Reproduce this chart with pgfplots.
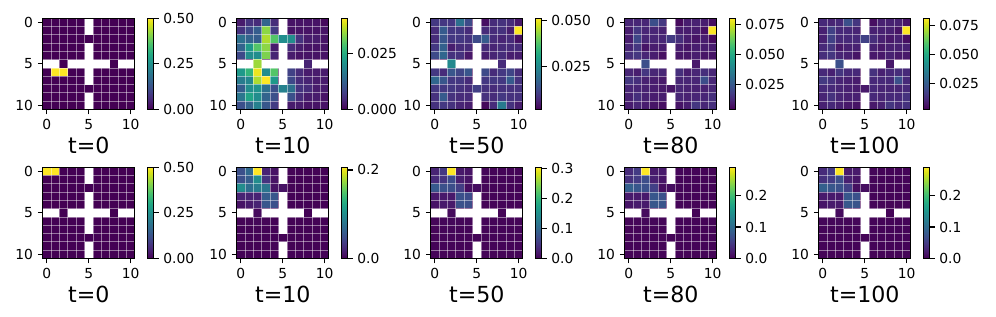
\documentclass[border=0pt]{standalone}
\usepackage{fontspec}
\setmainfont{DejaVu Sans}
\usepackage{pgfplots}
\pgfplotsset{compat=1.18}

\pgfplotsset{
  hm/.style={
    width=66.4bp, height=65.6bp, scale only axis,
    y dir=reverse, enlargelimits=false,
    xmin=-0.5, xmax=10.5, ymin=-0.5, ymax=10.5,
    xtick={0,5,10}, ytick={0,5,10},
    axis on top, tick align=outside, tick pos=left,
    major tick length=3.5bp,
    minor xtick={-0.5,0.5,...,10.5}, minor ytick={-0.5,0.5,...,10.5},
    minor tick length=0pt,
    xminorgrids, yminorgrids,
    minor grid style={white, opacity=0.45, line width=0.6bp},
    axis line style={line width=0.8bp},
    every tick/.style={black, line width=0.8bp},
    colormap name=viridis,
    /pgf/number format/assume math mode=true,
    tick label style={font=\fontsize{10}{12}\selectfont},
    xlabel style={font=\fontsize{16}{19}\selectfont, inner sep=0pt, yshift=-2bp},
    colorbar,
    colorbar style={
      width=4.3bp, at={(parent axis.north east)}, anchor=north west, xshift=0.7bp,
      ytick pos=right, yticklabel pos=right, tick align=outside,
      scaled y ticks=false,
      major tick length=3.5bp,
      axis line style={line width=0.8bp},
      every tick/.style={black, line width=0.8bp},
      tick label style={font=\fontsize{10}{12}\selectfont},
      /pgf/number format/assume math mode=true,
    },
  },
  hmdata/.style={matrix plot*, mesh/cols=11, point meta=explicit},
  table/hmtab/.style={row sep=\\, header=false, x expr={mod(\coordindex,11)}, y expr={floor(\coordindex/11)}, meta index=0},
}

\newcommand{\walls}{%
  \addplot[fill=white, draw=none, forget plot] coordinates {(4.5,-0.5) (5.5,-0.5) (5.5,1.5) (4.5,1.5)};
  \addplot[fill=white, draw=none, forget plot] coordinates {(4.5,2.5) (5.5,2.5) (5.5,7.5) (4.5,7.5)};
  \addplot[fill=white, draw=none, forget plot] coordinates {(4.5,8.5) (5.5,8.5) (5.5,10.5) (4.5,10.5)};
  \addplot[fill=white, draw=none, forget plot] coordinates {(-0.5,4.5) (1.5,4.5) (1.5,5.5) (-0.5,5.5)};
  \addplot[fill=white, draw=none, forget plot] coordinates {(2.5,4.5) (7.5,4.5) (7.5,5.5) (2.5,5.5)};
  \addplot[fill=white, draw=none, forget plot] coordinates {(8.5,4.5) (10.5,4.5) (10.5,5.5) (8.5,5.5)};
}

\begin{document}
\begin{tikzpicture}
\useasboundingbox (0,0) rectangle (717.12bp,-228.24bp);

% ---------------- top row ----------------
\begin{axis}[hm, at={(30.74bp,-13.18bp)}, anchor=north west, xlabel={t=0},
  point meta min=0, point meta max=0.5,
  colorbar style={ytick={0,0.25,0.5}, yticklabels={0.00,0.25,0.50}}]
\addplot[hmdata] table[hmtab] {
0\\0\\0\\0\\0\\0\\0\\0\\0\\0\\0\\
0\\0\\0\\0\\0\\0\\0\\0\\0\\0\\0\\
0\\0\\0\\0\\0\\0\\0\\0\\0\\0\\0\\
0\\0\\0\\0\\0\\0\\0\\0\\0\\0\\0\\
0\\0\\0\\0\\0\\0\\0\\0\\0\\0\\0\\
0\\0\\0\\0\\0\\0\\0\\0\\0\\0\\0\\
0\\0.5\\0.5\\0\\0\\0\\0\\0\\0\\0\\0\\
0\\0\\0\\0\\0\\0\\0\\0\\0\\0\\0\\
0\\0\\0\\0\\0\\0\\0\\0\\0\\0\\0\\
0\\0\\0\\0\\0\\0\\0\\0\\0\\0\\0\\
0\\0\\0\\0\\0\\0\\0\\0\\0\\0\\0\\
};
\walls
\end{axis}

\begin{axis}[hm, at={(170.42bp,-13.18bp)}, anchor=north west, xlabel={t=10},
  point meta min=0, point meta max=0.041,
  colorbar style={ytick={0,0.025}, yticklabels={0.000,0.025}}]
\addplot[hmdata] table[hmtab] {
0.003\\0.006\\0.005\\0.013\\0.005\\0\\0.002\\0.002\\0.002\\0.002\\0.001\\
0.006\\0.009\\0.012\\0.034\\0.007\\0\\0.002\\0.002\\0.002\\0.002\\0.002\\
0.015\\0.013\\0.012\\0.036\\0.030\\0.020\\0.020\\0.006\\0.003\\0.003\\0.002\\
0.013\\0.022\\0.030\\0.034\\0.003\\0\\0.005\\0.003\\0.002\\0.002\\0.002\\
0.009\\0.020\\0.020\\0.033\\0.004\\0\\0.003\\0.002\\0.002\\0.002\\0.002\\
0\\0\\0.035\\0\\0\\0\\0\\0\\0.004\\0\\0\\
0.022\\0.027\\0.040\\0.020\\0.030\\0\\0.008\\0.005\\0.003\\0.003\\0.003\\
0.017\\0.019\\0.036\\0.041\\0.022\\0\\0.009\\0.005\\0.004\\0.003\\0.003\\
0.012\\0.020\\0.021\\0.015\\0.010\\0.018\\0.015\\0.006\\0.005\\0.003\\0.003\\
0.016\\0.024\\0.020\\0.013\\0.010\\0\\0.010\\0.005\\0.003\\0.003\\0.002\\
0.010\\0.013\\0.018\\0.011\\0.007\\0\\0.003\\0.003\\0.002\\0.002\\0.002\\
};
\walls
\end{axis}

\begin{axis}[hm, at={(310.10bp,-13.18bp)}, anchor=north west, xlabel={t=50},
  point meta min=0.002, point meta max=0.051,
  colorbar style={ytick={0.025,0.05}, yticklabels={0.025,0.050}}]
\addplot[hmdata] table[hmtab] {
0.010\\0.010\\0.010\\0.020\\0.013\\0\\0.004\\0.008\\0.009\\0.008\\0.005\\
0.008\\0.016\\0.010\\0.010\\0.008\\0\\0.008\\0.008\\0.009\\0.006\\0.051\\
0.008\\0.015\\0.010\\0.010\\0.009\\0.013\\0.016\\0.008\\0.007\\0.008\\0.004\\
0.010\\0.017\\0.006\\0.008\\0.008\\0\\0.008\\0.007\\0.008\\0.008\\0.008\\
0.013\\0.018\\0.009\\0.009\\0.005\\0\\0.006\\0.007\\0.008\\0.006\\0.006\\
0\\0\\0.025\\0\\0\\0\\0\\0\\0.008\\0\\0\\
0.010\\0.008\\0.015\\0.012\\0.015\\0\\0.013\\0.008\\0.010\\0.012\\0.008\\
0.018\\0.015\\0.010\\0.010\\0.008\\0\\0.010\\0.010\\0.010\\0.016\\0.009\\
0.010\\0.010\\0.010\\0.009\\0.008\\0.011\\0.009\\0.008\\0.009\\0.009\\0.009\\
0.009\\0.016\\0.009\\0.008\\0.008\\0\\0.009\\0.008\\0.010\\0.009\\0.009\\
0.009\\0.010\\0.009\\0.007\\0.006\\0\\0.003\\0.008\\0.022\\0.009\\0.006\\
};
\walls
\end{axis}

\begin{axis}[hm, at={(449.78bp,-13.18bp)}, anchor=north west, xlabel={t=80},
  point meta min=0.004, point meta max=0.080,
  colorbar style={ytick={0.025,0.05,0.075}, yticklabels={0.025,0.050,0.075}}]
\addplot[hmdata] table[hmtab] {
0.012\\0.012\\0.012\\0.022\\0.016\\0\\0.006\\0.010\\0.011\\0.010\\0.007\\
0.010\\0.016\\0.012\\0.012\\0.011\\0\\0.010\\0.010\\0.010\\0.007\\0.080\\
0.010\\0.020\\0.012\\0.012\\0.012\\0.017\\0.014\\0.010\\0.008\\0.010\\0.006\\
0.012\\0.016\\0.008\\0.010\\0.010\\0\\0.010\\0.008\\0.010\\0.010\\0.010\\
0.014\\0.016\\0.012\\0.010\\0.007\\0\\0.008\\0.008\\0.010\\0.008\\0.008\\
0\\0\\0.022\\0\\0\\0\\0\\0\\0.009\\0\\0\\
0.012\\0.010\\0.016\\0.012\\0.012\\0\\0.014\\0.010\\0.012\\0.014\\0.012\\
0.016\\0.014\\0.011\\0.010\\0.009\\0\\0.012\\0.012\\0.012\\0.022\\0.012\\
0.012\\0.012\\0.011\\0.010\\0.009\\0.008\\0.012\\0.011\\0.011\\0.011\\0.012\\
0.011\\0.014\\0.011\\0.010\\0.010\\0\\0.012\\0.011\\0.012\\0.012\\0.014\\
0.010\\0.012\\0.010\\0.008\\0.007\\0\\0.008\\0.010\\0.016\\0.012\\0.014\\
};
\walls
\end{axis}

\begin{axis}[hm, at={(589.46bp,-13.18bp)}, anchor=north west, xlabel={t=100},
  point meta min=0.003, point meta max=0.081,
  colorbar style={ytick={0.025,0.05,0.075}, yticklabels={0.025,0.050,0.075}}]
\addplot[hmdata] table[hmtab] {
0.012\\0.011\\0.012\\0.022\\0.015\\0\\0.006\\0.010\\0.010\\0.010\\0.007\\
0.010\\0.018\\0.012\\0.012\\0.011\\0\\0.010\\0.010\\0.010\\0.007\\0.081\\
0.010\\0.018\\0.012\\0.012\\0.012\\0.018\\0.013\\0.010\\0.008\\0.010\\0.006\\
0.012\\0.015\\0.008\\0.010\\0.010\\0\\0.010\\0.008\\0.010\\0.010\\0.010\\
0.013\\0.015\\0.011\\0.010\\0.007\\0\\0.008\\0.008\\0.010\\0.008\\0.008\\
0\\0\\0.022\\0\\0\\0\\0\\0\\0.008\\0\\0\\
0.012\\0.010\\0.015\\0.012\\0.012\\0\\0.014\\0.010\\0.012\\0.013\\0.012\\
0.016\\0.014\\0.011\\0.010\\0.009\\0\\0.012\\0.012\\0.012\\0.022\\0.012\\
0.012\\0.012\\0.011\\0.010\\0.009\\0.008\\0.012\\0.011\\0.011\\0.011\\0.012\\
0.011\\0.014\\0.011\\0.010\\0.010\\0\\0.012\\0.011\\0.012\\0.012\\0.014\\
0.010\\0.012\\0.010\\0.008\\0.007\\0\\0.008\\0.010\\0.015\\0.012\\0.014\\
};
\walls
\end{axis}

% ---------------- bottom row ----------------
\begin{axis}[hm, at={(30.74bp,-120.46bp)}, anchor=north west, xlabel={t=0},
  point meta min=0, point meta max=0.5,
  colorbar style={ytick={0,0.25,0.5}, yticklabels={0.00,0.25,0.50}}]
\addplot[hmdata] table[hmtab] {
0.5\\0.5\\0\\0\\0\\0\\0\\0\\0\\0\\0\\
0\\0\\0\\0\\0\\0\\0\\0\\0\\0\\0\\
0\\0\\0\\0\\0\\0\\0\\0\\0\\0\\0\\
0\\0\\0\\0\\0\\0\\0\\0\\0\\0\\0\\
0\\0\\0\\0\\0\\0\\0\\0\\0\\0\\0\\
0\\0\\0\\0\\0\\0\\0\\0\\0\\0\\0\\
0\\0\\0\\0\\0\\0\\0\\0\\0\\0\\0\\
0\\0\\0\\0\\0\\0\\0\\0\\0\\0\\0\\
0\\0\\0\\0\\0\\0\\0\\0\\0\\0\\0\\
0\\0\\0\\0\\0\\0\\0\\0\\0\\0\\0\\
0\\0\\0\\0\\0\\0\\0\\0\\0\\0\\0\\
};
\walls
\end{axis}

\begin{axis}[hm, at={(170.42bp,-120.46bp)}, anchor=north west, xlabel={t=10},
  point meta min=0, point meta max=0.206,
  colorbar style={ytick={0,0.2}, yticklabels={0.0,0.2}}]
\addplot[hmdata] table[hmtab] {
0.050\\0.070\\0.206\\0.020\\0.010\\0\\0.002\\0.001\\0.001\\0.001\\0.001\\
0.050\\0.060\\0.100\\0.030\\0.010\\0\\0.001\\0.001\\0.001\\0.001\\0.001\\
0.100\\0.075\\0.085\\0.080\\0.010\\0.010\\0.002\\0.001\\0.001\\0.001\\0.001\\
0.020\\0.020\\0.020\\0.060\\0.055\\0\\0.001\\0.001\\0.001\\0.001\\0.001\\
0.010\\0.015\\0.020\\0.055\\0.050\\0\\0.001\\0.001\\0.001\\0.001\\0.001\\
0\\0\\0.005\\0\\0\\0\\0\\0\\0.001\\0\\0\\
0.002\\0.002\\0.003\\0.002\\0.001\\0\\0.001\\0.001\\0.001\\0.001\\0.001\\
0.001\\0.001\\0.002\\0.001\\0.001\\0\\0.001\\0.001\\0.001\\0.001\\0.001\\
0.001\\0.001\\0.001\\0.001\\0.001\\0.001\\0.001\\0.001\\0.001\\0.001\\0.001\\
0.001\\0.001\\0.001\\0.001\\0.001\\0\\0.001\\0.001\\0.001\\0.001\\0.001\\
0.001\\0.001\\0.001\\0.001\\0.001\\0\\0.001\\0.001\\0.001\\0.001\\0.001\\
};
\walls
\end{axis}

\begin{axis}[hm, at={(310.10bp,-120.46bp)}, anchor=north west, xlabel={t=50},
  point meta min=0, point meta max=0.305,
  colorbar style={ytick={0,0.1,0.2,0.3}, yticklabels={0.0,0.1,0.2,0.3}}]
\addplot[hmdata] table[hmtab] {
0.030\\0.050\\0.305\\0.020\\0.015\\0\\0.004\\0.003\\0.003\\0.003\\0.003\\
0.035\\0.045\\0.070\\0.025\\0.015\\0\\0.003\\0.003\\0.003\\0.003\\0.003\\
0.085\\0.075\\0.072\\0.055\\0.010\\0.010\\0.004\\0.003\\0.003\\0.003\\0.003\\
0.020\\0.020\\0.020\\0.075\\0.070\\0\\0.003\\0.003\\0.003\\0.003\\0.003\\
0.015\\0.020\\0.020\\0.075\\0.072\\0\\0.003\\0.003\\0.003\\0.003\\0.003\\
0\\0\\0.008\\0\\0\\0\\0\\0\\0.003\\0\\0\\
0.004\\0.004\\0.005\\0.004\\0.004\\0\\0.003\\0.003\\0.003\\0.003\\0.003\\
0.003\\0.003\\0.004\\0.003\\0.003\\0\\0.003\\0.003\\0.003\\0.003\\0.003\\
0.003\\0.003\\0.003\\0.003\\0.003\\0.003\\0.003\\0.003\\0.003\\0.003\\0.003\\
0.003\\0.003\\0.003\\0.003\\0.003\\0\\0.003\\0.003\\0.003\\0.003\\0.003\\
0.003\\0.003\\0.003\\0.003\\0.003\\0\\0.003\\0.003\\0.003\\0.003\\0.003\\
};
\walls
\end{axis}

\begin{axis}[hm, at={(449.78bp,-120.46bp)}, anchor=north west, xlabel={t=80},
  point meta min=0, point meta max=0.29,
  colorbar style={ytick={0,0.1,0.2}, yticklabels={0.0,0.1,0.2}}]
\addplot[hmdata] table[hmtab] {
0.035\\0.050\\0.290\\0.020\\0.020\\0\\0.004\\0.003\\0.003\\0.003\\0.003\\
0.040\\0.050\\0.068\\0.025\\0.015\\0\\0.003\\0.003\\0.003\\0.003\\0.003\\
0.088\\0.078\\0.072\\0.055\\0.010\\0.010\\0.004\\0.003\\0.003\\0.003\\0.003\\
0.020\\0.020\\0.020\\0.078\\0.072\\0\\0.003\\0.003\\0.003\\0.003\\0.003\\
0.015\\0.020\\0.020\\0.078\\0.075\\0\\0.003\\0.003\\0.003\\0.003\\0.003\\
0\\0\\0.008\\0\\0\\0\\0\\0\\0.003\\0\\0\\
0.004\\0.004\\0.005\\0.004\\0.004\\0\\0.003\\0.003\\0.003\\0.003\\0.003\\
0.003\\0.003\\0.004\\0.003\\0.003\\0\\0.003\\0.003\\0.003\\0.003\\0.003\\
0.003\\0.003\\0.003\\0.003\\0.003\\0.003\\0.003\\0.003\\0.003\\0.003\\0.003\\
0.003\\0.003\\0.003\\0.003\\0.003\\0\\0.003\\0.003\\0.003\\0.003\\0.003\\
0.003\\0.003\\0.003\\0.003\\0.003\\0\\0.003\\0.003\\0.003\\0.003\\0.003\\
};
\walls
\end{axis}

\begin{axis}[hm, at={(589.46bp,-120.46bp)}, anchor=north west, xlabel={t=100},
  point meta min=0, point meta max=0.29,
  colorbar style={ytick={0,0.1,0.2}, yticklabels={0.0,0.1,0.2}}]
\addplot[hmdata] table[hmtab] {
0.035\\0.050\\0.290\\0.020\\0.020\\0\\0.004\\0.003\\0.003\\0.003\\0.003\\
0.040\\0.050\\0.068\\0.025\\0.015\\0\\0.003\\0.003\\0.003\\0.003\\0.003\\
0.088\\0.078\\0.072\\0.055\\0.010\\0.010\\0.004\\0.003\\0.003\\0.003\\0.003\\
0.020\\0.020\\0.020\\0.078\\0.072\\0\\0.003\\0.003\\0.003\\0.003\\0.003\\
0.015\\0.020\\0.020\\0.078\\0.075\\0\\0.003\\0.003\\0.003\\0.003\\0.003\\
0\\0\\0.008\\0\\0\\0\\0\\0\\0.003\\0\\0\\
0.004\\0.004\\0.005\\0.004\\0.004\\0\\0.003\\0.003\\0.003\\0.003\\0.003\\
0.003\\0.003\\0.004\\0.003\\0.003\\0\\0.003\\0.003\\0.003\\0.003\\0.003\\
0.003\\0.003\\0.003\\0.003\\0.003\\0.003\\0.003\\0.003\\0.003\\0.003\\0.003\\
0.003\\0.003\\0.003\\0.003\\0.003\\0\\0.003\\0.003\\0.003\\0.003\\0.003\\
0.003\\0.003\\0.003\\0.003\\0.003\\0\\0.003\\0.003\\0.003\\0.003\\0.003\\
};
\walls
\end{axis}
\end{tikzpicture}
\end{document}
